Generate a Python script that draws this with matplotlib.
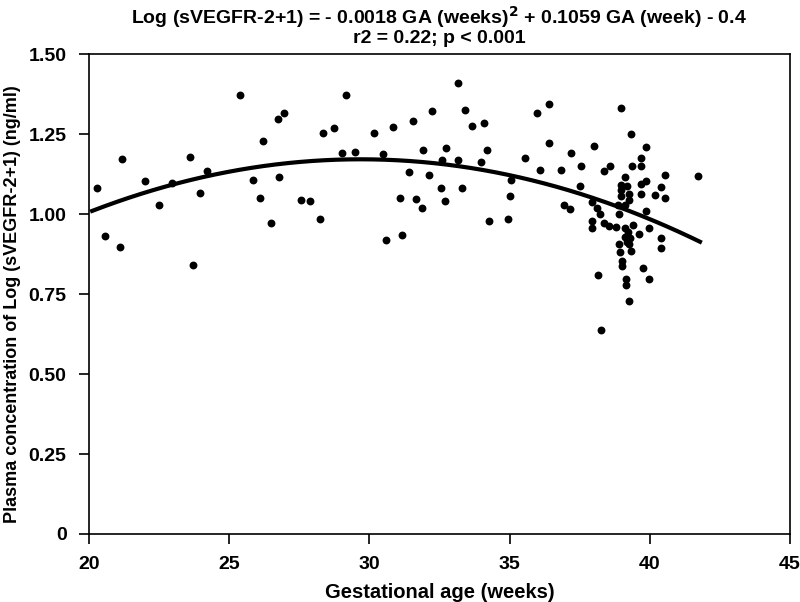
import matplotlib
matplotlib.use("Agg")
import matplotlib.pyplot as plt
import numpy as np

# gestational age (weeks) and log(sVEGFR-2+1)
ga = [20.30, 20.58, 21.10, 21.17, 21.99, 22.52, 22.97, 23.61, 23.73, 23.97,
      24.20, 25.40, 25.85, 26.10, 26.20, 26.51, 26.73, 26.79, 26.97, 27.56,
      27.90, 28.26, 28.35, 28.73, 29.02, 29.17, 29.50, 30.16, 30.50, 30.59,
      30.85, 31.11, 31.16, 31.40, 31.55, 31.67, 31.88, 31.91, 32.13, 32.24,
      32.57, 32.60, 32.70, 32.74, 33.15, 33.15, 33.30, 33.40, 33.68, 33.99,
      34.09, 34.19, 34.27, 34.94, 35.00, 35.05, 35.54, 35.98, 36.08, 36.39,
      36.39, 36.83, 36.96, 37.15, 37.18, 37.50, 37.56, 37.94, 37.94, 37.94,
      38.02, 38.13, 38.14, 38.24, 38.25, 38.36, 38.38, 38.53, 38.58, 38.81,
      38.88, 38.90, 38.90, 38.94, 38.97, 38.99, 38.99, 38.99, 39.00, 39.00,
      39.12, 39.12, 39.13, 39.13, 39.14, 39.14, 39.18, 39.19, 39.21, 39.26,
      39.26, 39.27, 39.27, 39.29, 39.32, 39.33, 39.37, 39.41, 39.60, 39.68,
      39.69, 39.69, 39.70, 39.75, 39.85, 39.86, 39.86, 39.98, 39.98, 40.20,
      40.40, 40.41, 40.41, 40.53, 40.55, 41.71]
log_svegfr = [1.083, 0.933, 0.896, 1.172, 1.105, 1.029, 1.097, 1.177, 0.840, 1.065,
              1.134, 1.372, 1.108, 1.051, 1.230, 0.972, 1.297, 1.116, 1.316, 1.043,
              1.040, 0.985, 1.255, 1.268, 1.192, 1.372, 1.195, 1.254, 1.188, 0.919,
              1.271, 1.051, 0.935, 1.131, 1.292, 1.046, 1.019, 1.199, 1.122, 1.323,
              1.081, 1.169, 1.042, 1.207, 1.411, 1.170, 1.082, 1.327, 1.274, 1.162,
              1.284, 1.200, 0.978, 0.984, 1.058, 1.108, 1.176, 1.317, 1.139, 1.344,
              1.222, 1.138, 1.027, 1.016, 1.190, 1.087, 1.151, 1.038, 0.978, 0.958,
              1.213, 1.019, 0.811, 0.999, 0.637, 0.973, 1.134, 0.963, 1.150, 0.959,
              1.030, 1.000, 0.908, 0.881, 1.092, 1.332, 1.074, 1.057, 0.853, 0.838,
              0.957, 0.929, 1.115, 1.027, 0.798, 0.778, 0.914, 1.088, 0.945, 0.908,
              0.729, 1.063, 1.045, 0.924, 1.252, 0.884, 1.149, 0.967, 0.939, 1.149,
              1.095, 1.062, 1.175, 0.831, 1.210, 1.104, 1.010, 0.957, 0.797, 1.059,
              1.085, 0.925, 0.894, 1.049, 1.123, 1.119]

# points along the drawn regression curve
curve_ga = [20.12, 22.97, 25.50, 29.07, 32.52, 34.90, 37.87, 41.79]
curve_val = [1.002, 1.099, 1.146, 1.171, 1.158, 1.117, 1.049, 0.919]

x_ticks = [20, 25, 30, 35, 40, 45]
y_ticks = [0, 0.25, 0.5, 0.75, 1.0, 1.25, 1.5]
y_ticklabels = ['0', '0.25', '0.50', '0.75', '1.00', '1.25', '1.50']

plt.rcParams['font.family'] = 'Liberation Sans'
plt.rcParams['font.weight'] = 'bold'

fig = plt.figure(figsize=(8, 6.02), dpi=100)
ax = fig.add_axes([0.111, 0.113, 0.8765, 0.797])

ax.scatter(ga, log_svegfr, s=32, color='black', zorder=3, linewidths=0)

coef = np.polyfit(curve_ga, curve_val, 2)
xs = np.linspace(curve_ga[0], curve_ga[-1], 200)
ax.plot(xs, np.polyval(coef, xs), color='black', lw=3, zorder=2)

ax.set_xlim(20, 45)
ax.set_ylim(0, 1.5)
ax.set_xticks(x_ticks)
ax.set_yticks(y_ticks)
ax.set_yticklabels(y_ticklabels)
ax.tick_params(direction='out', length=7, width=1.2, pad=9, labelsize=14)
for sp in ax.spines.values():
    sp.set_linewidth(1.2)

ax.set_xlabel('Gestational age (weeks)', fontsize=14.5, fontweight='bold', labelpad=7)
ax.set_ylabel('Plasma concentration of Log (sVEGFR-2+1) (ng/ml)', fontsize=13, fontweight='bold')
ax.yaxis.set_label_coords(-0.097, 0.48)

cx = 0.111 + 0.8765 / 2
fig.text(cx, 0.972, 'Log (sVEGFR-2+1) = - 0.0018 GA (weeks)$^{\\mathbf{2}}$ + 0.1059 GA (week) - 0.4',
         ha='center', va='center', fontsize=14, fontweight='bold')
fig.text(cx, 0.936, 'r2 = 0.22; p < 0.001', ha='center', va='center',
         fontsize=14, fontweight='bold')

fig.savefig('out.png', dpi=100)
